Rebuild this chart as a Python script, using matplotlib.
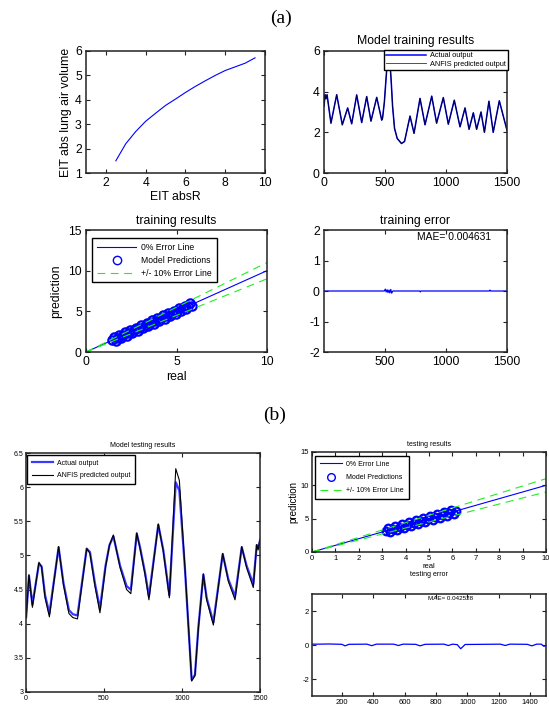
import matplotlib
matplotlib.use('Agg')
import matplotlib.pyplot as plt
from matplotlib.ticker import FuncFormatter

plt.rcParams['font.family'] = ['Liberation Sans', 'DejaVu Sans']

# (a) calibration curve
calib_x = [2.5, 3, 3.5, 4, 4.5, 5, 5.5, 6, 6.5, 7, 7.5, 8, 8.5, 9, 9.5]
calib_y = [1.5, 2.2, 2.7, 3.12, 3.45, 3.77, 4.03, 4.3, 4.55, 4.78, 5.0, 5.2, 5.35, 5.5, 5.72]

# (a) training series (peaks / troughs)
train_x = [1, 8, 16, 25, 57, 104, 150, 194, 227, 268, 309, 350, 385, 432, 473,
           480, 495, 508, 518, 528, 540, 550, 562, 578, 600, 635, 660, 705, 738,
           787, 828, 883, 923, 978, 1019, 1068, 1115, 1156, 1189, 1224, 1251,
           1287, 1315, 1352, 1387, 1437, 1500]
train_actual = [3.3, 3.85, 3.65, 3.85, 2.45, 3.85, 2.37, 3.2, 2.42, 3.84, 2.48, 3.76, 2.55, 3.72, 2.6,
                2.7, 3.5, 4.6, 5.4, 5.85, 5.5, 4.6, 3.3, 2.2, 1.7, 1.45, 1.55, 2.8, 1.95,
                3.67, 2.37, 3.78, 2.45, 3.71, 2.4, 3.58, 2.27, 3.2, 2.15, 2.96, 2.15,
                3.0, 2.0, 3.53, 2.0, 3.55, 2.1]
train_pred = list(train_actual)  # ANFIS output lies on top of the actual curve

# (a) regression points
train_real_pts = [1.45, 1.55, 1.65, 1.75, 1.85, 1.95, 2.05, 2.15, 2.25, 2.35, 2.45, 2.55,
                  2.65, 2.75, 2.85, 2.95, 3.05, 3.15, 3.25, 3.35, 3.45, 3.55, 3.65, 3.75,
                  3.85, 3.95, 4.05, 4.15, 4.25, 4.35, 4.45, 4.55, 4.65, 4.75, 4.85, 4.95,
                  5.05, 5.15, 5.25, 5.35, 5.45, 5.55, 5.65, 5.75, 5.85]
train_pred_pts = [1.45, 1.80, 1.40, 1.75, 2.10, 1.70, 2.05, 2.40, 2.00, 2.35, 2.70, 2.30,
                  2.65, 3.00, 2.60, 2.95, 3.30, 2.90, 3.25, 3.60, 3.20, 3.55, 3.90, 3.50,
                  3.85, 4.20, 3.80, 4.15, 4.50, 4.10, 4.45, 4.80, 4.40, 4.75, 5.10, 4.70,
                  5.05, 5.40, 5.00, 5.35, 5.70, 5.30, 5.65, 6.00, 5.60]
line_x = [0, 10]
line_0 = [0, 10]
line_up = [0, 11]
line_lo = [0, 9]

# (a) training error
train_err_x = [1, 495, 503, 510, 518, 525, 533, 540, 548, 555, 565, 785, 790, 795,
               1355, 1360, 1365, 1500]
train_err_y = [0, 0, 0.06, -0.03, 0.04, -0.05, 0.03, -0.06, 0.05, -0.07, 0, 0, -0.03, 0,
               0, 0.03, 0, 0]

# (b) testing series
test_x = [1, 19, 41, 83, 100, 122, 150, 209, 240, 275, 300, 330, 389, 410, 442, 474,
          510, 535, 560, 603, 645, 672, 710, 731, 763, 788, 848, 880, 919, 960, 983,
          1019, 1062, 1083, 1105, 1137, 1158, 1201, 1261, 1297, 1340, 1383, 1414,
          1457, 1479, 1488, 1500]
test_actual = [4.1, 4.7, 4.28, 4.88, 4.84, 4.42, 4.15, 5.12, 4.6, 4.2, 4.14, 4.12, 5.1, 5.05, 4.59, 4.22,
               4.85, 5.15, 5.28, 4.85, 4.55, 4.5, 5.32, 5.12, 4.75, 4.4, 5.45, 5.08, 4.42, 6.07, 5.95,
               4.8, 3.18, 3.25, 3.95, 4.72, 4.38, 4.02, 5.02, 4.65, 4.4, 5.12, 4.85,
               4.58, 5.15, 5.1, 5.22]
test_pred = [4.08, 4.72, 4.24, 4.9, 4.83, 4.38, 4.1, 5.13, 4.57, 4.15, 4.09, 4.07, 5.1, 5.03, 4.55, 4.16,
             4.83, 5.15, 5.3, 4.82, 4.5, 4.44, 5.33, 5.1, 4.72, 4.35, 5.46, 5.06, 4.38, 6.27, 6.1,
             4.82, 3.16, 3.24, 3.93, 4.73, 4.35, 3.98, 5.03, 4.62, 4.35, 5.13, 4.82,
             4.53, 5.16, 5.08, 5.24]

test_real_pts = [3.15, 3.25, 3.35, 3.45, 3.55, 3.65, 3.75, 3.85, 3.95, 4.05, 4.15, 4.25,
                 4.35, 4.45, 4.55, 4.65, 4.75, 4.85, 4.95, 5.05, 5.15, 5.25, 5.35, 5.45,
                 5.55, 5.65, 5.75, 5.85, 5.95, 6.05, 6.15]
test_pred_pts = [3.15, 3.60, 3.00, 3.45, 3.90, 3.30, 3.75, 4.20, 3.60, 4.05, 4.50, 3.90,
                 4.35, 4.80, 4.20, 4.65, 5.10, 4.50, 4.95, 5.40, 4.80, 5.25, 5.70, 5.10,
                 5.55, 6.00, 5.40, 5.85, 6.30, 5.70, 6.15]

test_err_x = [10, 60, 120, 200, 221, 245, 360, 390, 420, 530, 560, 590, 670, 698, 730,
              850, 878, 905, 935, 957, 985, 1210, 1240, 1270, 1380, 1410, 1440, 1470, 1485, 1500]
test_err_y = [0.05, 0.05, 0.06, 0.04, -0.05, 0.04, 0.05, -0.04, 0.05, 0.05, -0.03, 0.05, 0.04, -0.05, 0.04,
              0.05, -0.03, 0.05, 0.02, -0.22, 0.03, 0.05, -0.03, 0.05, 0.04, -0.05, 0.05, 0.05, -0.07, -0.05]

W, H = 549, 708
fig = plt.figure(figsize=(W / 100, H / 100), dpi=100)

BLUE = '#0000ff'
GREEN = '#22ee22'
fmt = FuncFormatter(lambda v, p: '%g' % v)
TOP_FS = 8.8


def add_ax(l, t, r, b):
    return fig.add_axes([l / W, 1 - b / H, (r - l) / W, (b - t) / H])


def style(ax, fs):
    ax.set_facecolor('none')
    ax.tick_params(direction='in', top=True, right=True, length=3, width=0.8,
                   labelsize=fs, pad=3, color='#222222')
    for s in ax.spines.values():
        s.set_linewidth(1.1)
        s.set_color('#222222')
    ax.xaxis.set_major_formatter(fmt)
    ax.yaxis.set_major_formatter(fmt)


def box_legend(ax, fs, anchor, hl, bp=0.5, ls=0.35, loc='upper left'):
    leg = ax.legend(loc=loc, bbox_to_anchor=anchor, borderaxespad=0,
                    fontsize=fs, handlelength=hl, fancybox=False, framealpha=1,
                    borderpad=bp, labelspacing=ls, handletextpad=0.6)
    leg.get_frame().set_edgecolor('black')
    leg.get_frame().set_linewidth(1.0)
    return leg


fig.text(281 / W, 1 - 18 / H, '(a)', family='Liberation Serif', fontsize=14,
         ha='center', va='center')
fig.text(275 / W, 1 - 415 / H, '(b)', family='Liberation Serif', fontsize=14,
         ha='center', va='center')

# top left
ax1 = add_ax(86, 51, 265, 173)
style(ax1, TOP_FS)
ax1.plot(calib_x, calib_y, color=BLUE, lw=0.8)
ax1.set_xlim(1, 10)
ax1.set_ylim(1, 6)
ax1.set_xticks([2, 4, 6, 8, 10])
ax1.set_yticks([1, 2, 3, 4, 5, 6])
ax1.set_xlabel('EIT absR', fontsize=TOP_FS, labelpad=1)
ax1.set_ylabel('EIT abs lung air volume', fontsize=TOP_FS, labelpad=2)

# top right
ax2 = add_ax(324, 51, 507, 173)
style(ax2, TOP_FS)
ax2.plot(train_x, train_actual, color=BLUE, lw=1.1, label='Actual output')
ax2.plot(train_x, train_pred, color='black', lw=0.6, alpha=0.8, label='ANFIS predicted output')
ax2.set_xlim(0, 1500)
ax2.set_ylim(0, 6)
ax2.set_xticks([0, 500, 1000, 1500])
ax2.set_yticks([0, 2, 4, 6])
ax2.set_title('Model training results', fontsize=TOP_FS, pad=5)
box_legend(ax2, 5.3, (1.006, 1.008), 5.4, bp=0.3, ls=0.2, loc='upper right')

# middle left
ax3 = add_ax(86, 230, 267, 352)
style(ax3, TOP_FS)
ax3.plot(line_x, line_0, color=BLUE, lw=0.8, label='0% Error Line')
ax3.plot(train_real_pts, train_pred_pts, 'o', mfc='none', mec=BLUE, mew=1.6, ms=6,
         label='Model Predictions')
ax3.plot(line_x, line_up, color=GREEN, lw=0.8, dashes=(7, 5), label='+/- 10% Error Line')
ax3.plot(line_x, line_lo, color=GREEN, lw=0.8, dashes=(7, 5))
ax3.set_xlim(0, 10)
ax3.set_ylim(0, 15)
ax3.set_xticks([0, 5, 10])
ax3.set_yticks([0, 5, 10, 15])
ax3.set_title('training results', fontsize=TOP_FS, pad=4)
ax3.set_xlabel('real', fontsize=TOP_FS, labelpad=2)
ax3.set_ylabel('prediction', fontsize=TOP_FS, labelpad=4)
leg3 = box_legend(ax3, 6.2, (0.033, 0.934), 4.6, bp=0.55, ls=0.45)
leg3.legend_handles[1].set_markeredgewidth(1.0)

# middle right
ax4 = add_ax(324, 230, 507, 352)
style(ax4, TOP_FS)
ax4.plot(train_err_x, train_err_y, color=BLUE, lw=0.9)
ax4.set_xlim(1, 1500)
ax4.set_ylim(-2, 2)
ax4.set_xticks([500, 1000, 1500])
ax4.set_yticks([-2, -1, 0, 1, 2])
ax4.set_title('training error', fontsize=TOP_FS, pad=4)
ax4.text(765, 1.78, 'MAE= 0.004631', fontsize=7.4, va='center', ha='left')

# bottom left
ax5 = add_ax(26, 453, 260, 692)
style(ax5, 5)
ax5.plot(test_x, test_actual, color='#3a3aff', lw=1.6, label='Actual output')
ax5.plot(test_x, test_pred, color='black', lw=0.8, label='ANFIS predicted output')
ax5.set_xlim(0, 1500)
ax5.set_ylim(3, 6.5)
ax5.set_xticks([0, 500, 1000, 1500])
ax5.set_yticks([3, 3.5, 4, 4.5, 5, 5.5, 6, 6.5])
ax5.tick_params(pad=2)
ax5.set_title('Model testing results', fontsize=5, pad=4)
box_legend(ax5, 5, (0.004, 0.992), 3.0, bp=0.7, ls=0.75)

# bottom right, regression
ax6 = add_ax(312, 452, 546, 552)
style(ax6, 5.5)
ax6.plot(line_x, line_0, color=BLUE, lw=0.8, label='0% Error Line')
ax6.plot(test_real_pts, test_pred_pts, 'o', mfc='none', mec=BLUE, mew=1.6, ms=5.5,
         label='Model Predictions')
ax6.plot(line_x, line_up, color=GREEN, lw=0.8, dashes=(7, 5), label='+/- 10% Error Line')
ax6.plot(line_x, line_lo, color=GREEN, lw=0.8, dashes=(7, 5))
ax6.set_xlim(0, 10)
ax6.set_ylim(0, 15)
ax6.set_xticks(range(11))
ax6.set_yticks([0, 5, 10, 15])
ax6.tick_params(pad=2)
ax6.set_title('testing results', fontsize=5, pad=4)
ax6.set_xlabel('real', fontsize=5.5, labelpad=1)
ax6.set_ylabel('prediction', fontsize=7, labelpad=2)
leg6 = box_legend(ax6, 5.0, (0.013, 0.96), 3.2, bp=0.7, ls=0.9)
leg6.legend_handles[1].set_markeredgewidth(1.0)

# bottom right, error
ax7 = add_ax(312, 594, 546, 696)
style(ax7, 5.5)
ax7.plot(test_err_x, test_err_y, color=BLUE, lw=0.9)
ax7.set_xlim(10, 1500)
ax7.set_ylim(-3, 3)
ax7.set_xticks([200, 400, 600, 800, 1000, 1200, 1400])
ax7.set_yticks([-2, 0, 2])
ax7.tick_params(pad=2)
ax7.set_title('testing error', fontsize=5, pad=13)
ax7.text(748, 2.72, 'MAE= 0.042528', fontsize=4.5, va='center', ha='left')

fig.savefig('out.png', dpi=100)
